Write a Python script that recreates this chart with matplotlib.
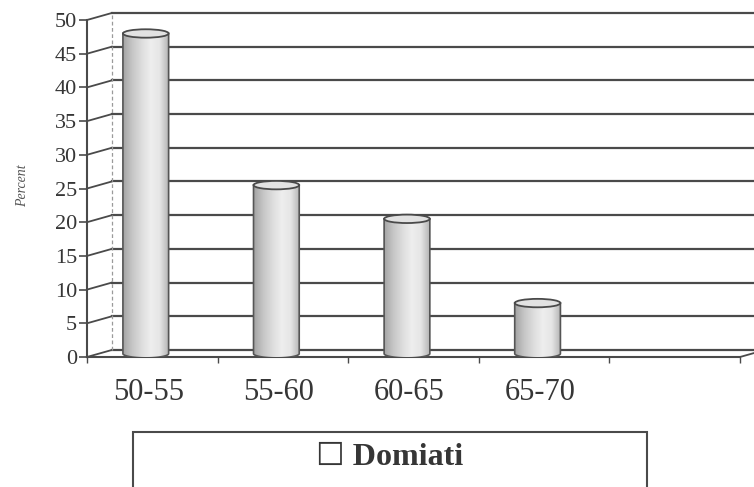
import numpy as np
import matplotlib.pyplot as plt
from matplotlib.patches import Ellipse, Polygon, Rectangle
from matplotlib.colors import LinearSegmentedColormap

# age groups and share of Domiati samples (%)
categories = ['50-55', '55-60', '60-65', '65-70']
percent = [47.5, 25, 20, 7.5]
n_slots = 5
yticks = np.arange(0, 55, 5)

ink = '#363636'
grid_col = '#4a4a4a'
serif = 'Liberation Serif'

# 3d depth offset of the back wall (in data units)
dx, dy = 0.19, 1.04

fig = plt.figure(figsize=(7.54, 4.87), dpi=100)
ax = fig.add_axes([87 / 754, 130 / 487, 653 / 754, 337 / 487])

# back wall gridlines + connectors to the front axis
for t in yticks:
    ax.plot([dx, n_slots + dx], [t + dy, t + dy], color=grid_col, lw=1.6,
            clip_on=False, zorder=1)
    ax.plot([0, dx], [t, t + dy], color=grid_col, lw=1.3, clip_on=False, zorder=1)
ax.plot([dx, dx], [dy, yticks[-1] + dy], color='#9a9a9a', lw=0.9, ls=(0, (3, 2)),
        clip_on=False, zorder=1)
ax.plot([n_slots, n_slots + dx], [0, dy], color=grid_col, lw=1.3, clip_on=False, zorder=1)

# cylinder shading
cyl_cmap = LinearSegmentedColormap.from_list(
    'cyl', ['#a4a4a4', '#c6c6c6', '#dcdcdc', '#eeeeee', '#e6e6e6', '#b4b4b4'])
grad = np.linspace(0, 1, 200).reshape(1, -1)


def cylinder(xc, h, w=0.35, eh=1.25, base=0.5):
    x0 = xc - w / 2
    theta = np.linspace(np.pi, 2 * np.pi, 60)
    arc = np.column_stack([xc + w / 2 * np.cos(theta), base + eh / 2 * np.sin(theta)])
    verts = np.vstack([[x0, base + h], arc, [x0 + w, base + h]])
    body = Polygon(verts, closed=True, facecolor='none', edgecolor='#555555',
                   lw=1.2, zorder=4)
    ax.add_patch(body)
    im = ax.imshow(grad, cmap=cyl_cmap, aspect='auto', zorder=3,
                   extent=[x0, x0 + w, base - eh / 2, base + h])
    im.set_clip_path(body)
    ax.add_patch(Ellipse((xc, base + h), w, eh, facecolor='#e2e2e2',
                         edgecolor='#4a4a4a', lw=1.3, zorder=5))


for i, v in enumerate(percent):
    cylinder(i + 0.45, v)

ax.set_xlim(0, n_slots)
ax.set_ylim(0, 50)

for s in ['top', 'right']:
    ax.spines[s].set_visible(False)
for s in ['left', 'bottom']:
    ax.spines[s].set_color(grid_col)
    ax.spines[s].set_linewidth(1.5)

ax.set_yticks(yticks)
ax.set_yticklabels([str(t) for t in yticks], fontfamily=serif, fontsize=16, color=ink)
ax.tick_params(axis='y', direction='out', length=6, width=1.2, color=grid_col, pad=1)

ax.set_xticks(np.arange(n_slots + 1))
ax.set_xticklabels([])
ax.tick_params(axis='x', which='major', direction='out', length=4, width=1, color=grid_col)
ax.set_xticks(np.arange(len(categories)) + 0.47, minor=True)
ax.set_xticklabels(categories, minor=True, fontfamily=serif, fontsize=22, color=ink)
ax.tick_params(axis='x', which='minor', length=0, pad=15)

fig.text(0.03, 1 - 186 / 487, 'Percent', rotation=90, ha='center', va='center',
         fontfamily=serif, fontstyle='italic', fontsize=10, color='#555555')

# legend box
fig.patches.append(Rectangle((133 / 754, -0.05), 514 / 754, 0.05 + 55 / 487,
                             transform=fig.transFigure, facecolor='white',
                             edgecolor=grid_col, lw=1.5))
fig.text(390 / 754, 1 - 457 / 487, '\u2610 Domiati', ha='center', va='center',
         family=[serif, 'DejaVu Sans'], fontweight='bold', fontsize=23, color=ink)

fig.savefig('out.png', dpi=100)
